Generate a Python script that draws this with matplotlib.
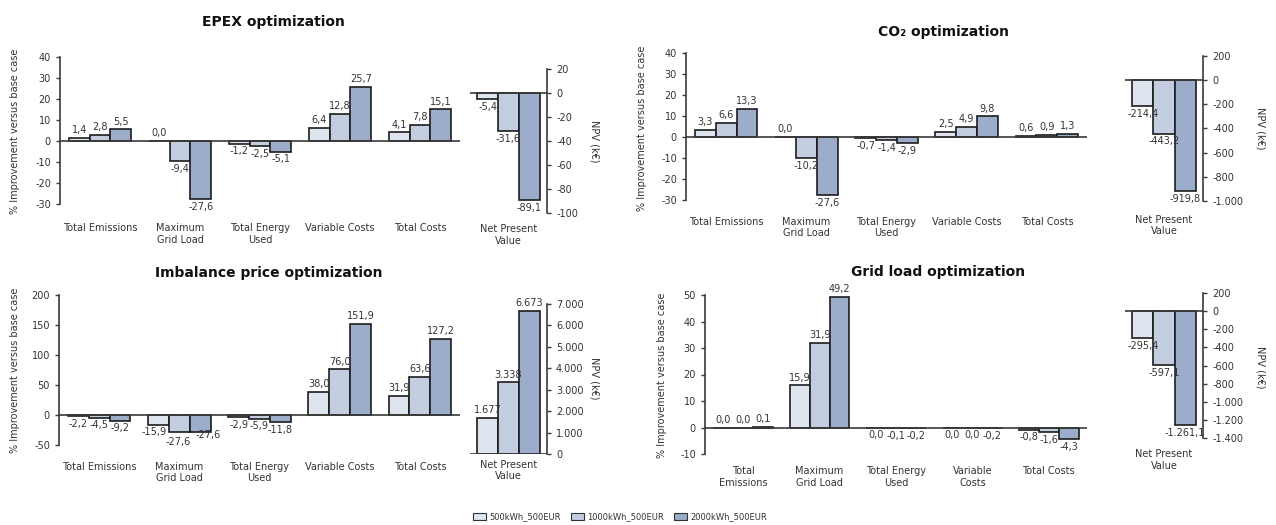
import matplotlib
matplotlib.use("Agg")
import matplotlib.pyplot as plt
import numpy as np
from matplotlib.patches import Patch
from matplotlib.ticker import FuncFormatter

W, H = 1276, 525

# categories
cats_std = ["Total Emissions", "Maximum\nGrid Load", "Total Energy\nUsed", "Variable Costs", "Total Costs"]
cats_grid = ["Total\nEmissions", "Maximum\nGrid Load", "Total Energy\nUsed", "Variable\nCosts", "Total Costs"]
npv_cat = "Net Present\nValue"
series_names = ["500kWh_500EUR", "1000kWh_500EUR", "2000kWh_500EUR"]

# EPEX optimization
epex_500 = [1.4, 0.0, -1.2, 6.4, 4.1]
epex_1000 = [2.8, -9.4, -2.5, 12.8, 7.8]
epex_2000 = [5.5, -27.6, -5.1, 25.7, 15.1]
epex_npv = [-5.4, -31.6, -89.1]

# CO2 optimization
co2_500 = [3.3, 0.0, -0.7, 2.5, 0.6]
co2_1000 = [6.6, -10.2, -1.4, 4.9, 0.9]
co2_2000 = [13.3, -27.6, -2.9, 9.8, 1.3]
co2_npv = [-214.4, -443.2, -919.8]

# Imbalance price optimization
imb_500 = [-2.2, -15.9, -2.9, 38.0, 31.9]
imb_1000 = [-4.5, -27.6, -5.9, 76.0, 63.6]
imb_2000 = [-9.2, -27.6, -11.8, 151.9, 127.2]
imb_npv = [1677, 3338, 6673]

# Grid load optimization (-0.0 = small negative shown as 0,0)
grid_500 = [0.0, 15.9, -0.0, -0.0, -0.8]
grid_1000 = [0.0, 31.9, -0.1, -0.0, -1.6]
grid_2000 = [0.1, 49.2, -0.2, -0.2, -4.3]
grid_npv = [-295.4, -597.1, -1261.1]

colors = ["#dfe5ef", "#c2cde0", "#9badcb"]
edge = "#1c1c1c"
axis_col = "#3a3a3a"
text_col = "#333333"
FS = 7

plt.rcParams['font.family'] = ['DejaVu Sans']
plt.rcParams['axes.unicode_minus'] = False


def fmt(v, d=1):
    if round(v, d) == 0:
        v = 0.0
    s = f"{v:,.{d}f}"
    return s.replace(",", "X").replace(".", ",").replace("X", ".")


def px_axes(left, right, top, bottom):
    return fig.add_axes([left / W, 1 - bottom / H, (right - left) / W, (bottom - top) / H])


def ftext(x, y, s, **kw):
    fig.text(x / W, 1 - y / H, s, **kw)


def draw_main(ax, cats, vals, ylim, step, pad, nudge=None):
    nudge = nudge or {}
    x = np.arange(len(cats))
    bw = 0.26
    for i, v in enumerate(vals):
        xs = x + (i - 1) * bw
        ax.bar(xs, v, bw, color=colors[i], edgecolor=edge, linewidth=1.2, zorder=2)
        for j, (xi, vi) in enumerate(zip(xs, v)):
            neg = np.signbit(vi)
            dx, dy = nudge.get((i, j), (0, 0))
            ax.annotate(fmt(vi), (xi, vi), xytext=(dx, (-2 if neg else 2) + dy),
                        textcoords="offset points", ha="center",
                        va="top" if neg else "bottom", fontsize=FS, color=text_col)
    ax.axhline(0, color=axis_col, lw=1.2, zorder=3)
    ax.set_xlim(-0.5, len(cats) - 0.5)
    ax.set_ylim(*ylim)
    ax.set_yticks(np.arange(ylim[0], ylim[1] + 1, step))
    ax.yaxis.set_major_formatter(FuncFormatter(lambda v, p: fmt(v, 0)))
    ax.set_xticks(x)
    ax.set_xticklabels(cats)
    ax.tick_params(axis="x", length=0, pad=pad, labelsize=FS, labelcolor=text_col)
    ax.tick_params(axis="y", length=3, width=1, color=axis_col, labelsize=FS, labelcolor=text_col)
    for s in ["top", "right", "bottom"]:
        ax.spines[s].set_visible(False)
    ax.spines["left"].set_color(axis_col)
    ax.spines["left"].set_linewidth(1.2)
    ax.set_facecolor("none")


def draw_npv(ax, vals, ylim, step, pad, d=1):
    bw = 0.27
    xs = (np.arange(3) - 1) * bw
    for i, (xi, vi) in enumerate(zip(xs, vals)):
        ax.bar(xi, vi, bw, color=colors[i], edgecolor=edge, linewidth=1.2, zorder=2)
        neg = vi < 0
        ax.annotate(fmt(vi, d), (xi, vi), xytext=(0, -2 if neg else 2),
                    textcoords="offset points", ha="center",
                    va="top" if neg else "bottom", fontsize=FS, color=text_col)
    ax.axhline(0, color=axis_col, lw=1.2, zorder=3)
    ax.set_xlim(-0.5, 0.5)
    ax.set_ylim(*ylim)
    ax.set_yticks(np.arange(ylim[0], ylim[1] + 1, step))
    ax.yaxis.set_major_formatter(FuncFormatter(lambda v, p: fmt(v, 0)))
    ax.yaxis.tick_right()
    ax.set_xticks([0])
    ax.set_xticklabels([npv_cat])
    ax.tick_params(axis="x", length=0, pad=pad, labelsize=FS, labelcolor=text_col)
    ax.tick_params(axis="y", length=3, width=1, color=axis_col, labelsize=FS, labelcolor=text_col)
    for s in ["top", "left", "bottom"]:
        ax.spines[s].set_visible(False)
    ax.spines["right"].set_color(axis_col)
    ax.spines["right"].set_linewidth(1.2)
    ax.set_facecolor("none")


fig = plt.figure(figsize=(W / 100, H / 100), dpi=100)

ylab = "% Improvement versus base case"

# EPEX
ax = px_axes(60, 460, 57, 204)
draw_main(ax, cats_std, [epex_500, epex_1000, epex_2000], (-30, 40), 10, 14)
ax = px_axes(470, 547, 69, 213)
draw_npv(ax, epex_npv, (-100, 20), 20, 8)
ftext(273, 22, "EPEX optimization", ha="center", va="center", fontsize=10, fontweight="bold", color="#111111")
ftext(15, 131, ylab, ha="center", va="center", rotation=90, fontsize=FS, color=text_col)
ftext(594, 141, "NPV (k€)", ha="center", va="center", rotation=270, fontsize=FS, color=text_col)

# CO2
ax = px_axes(686, 1087, 53, 200)
draw_main(ax, cats_std, [co2_500, co2_1000, co2_2000], (-30, 40), 10, 12)
ax = px_axes(1125, 1203, 56, 201)
draw_npv(ax, co2_npv, (-1000, 200), 200, 10)
ftext(943, 32, "CO₂ optimization", ha="center", va="center", fontsize=10, fontweight="bold", color="#111111")
ftext(642, 128, ylab, ha="center", va="center", rotation=90, fontsize=FS, color=text_col)
ftext(1260, 128, "NPV (k€)", ha="center", va="center", rotation=270, fontsize=FS, color=text_col)

# Imbalance
ax = px_axes(59, 460, 295, 445)
draw_main(ax, cats_std, [imb_500, imb_1000, imb_2000], (-50, 200), 50, 12,
          nudge={(0, 1): (-3, 0), (1, 1): (-1, -2), (2, 1): (6, 3)})
ax = px_axes(470, 547, 304, 454)
draw_npv(ax, imb_npv, (0, 7000), 1000, 4, d=0)
ftext(269, 273, "Imbalance price optimization", ha="center", va="center", fontsize=10, fontweight="bold", color="#111111")
ftext(15, 370, ylab, ha="center", va="center", rotation=90, fontsize=FS, color=text_col)
ftext(594, 378, "NPV (k€)", ha="center", va="center", rotation=270, fontsize=FS, color=text_col)

# Grid load
ax = px_axes(705, 1087, 295, 454)
draw_main(ax, cats_grid, [grid_500, grid_1000, grid_2000], (-10, 50), 10, 9)
ax = px_axes(1125, 1203, 293, 438)
draw_npv(ax, grid_npv, (-1400, 200), 200, 8)
ftext(938, 272, "Grid load optimization", ha="center", va="center", fontsize=10, fontweight="bold", color="#111111")
ftext(662, 375, ylab, ha="center", va="center", rotation=90, fontsize=FS, color=text_col)
ftext(1260, 367, "NPV (k€)", ha="center", va="center", rotation=270, fontsize=FS, color=text_col)

handles = [Patch(facecolor=c, edgecolor="#333333", linewidth=0.8, label=n) for c, n in zip(colors, series_names)]
fig.legend(handles=handles, loc="center", bbox_to_anchor=(620 / W, 1 - 517 / H), ncol=3,
           frameon=False, fontsize=6, handlelength=1.6, handleheight=1.0, columnspacing=1.2,
           handletextpad=0.4, labelcolor=text_col)

fig.savefig("out.png", dpi=100)
